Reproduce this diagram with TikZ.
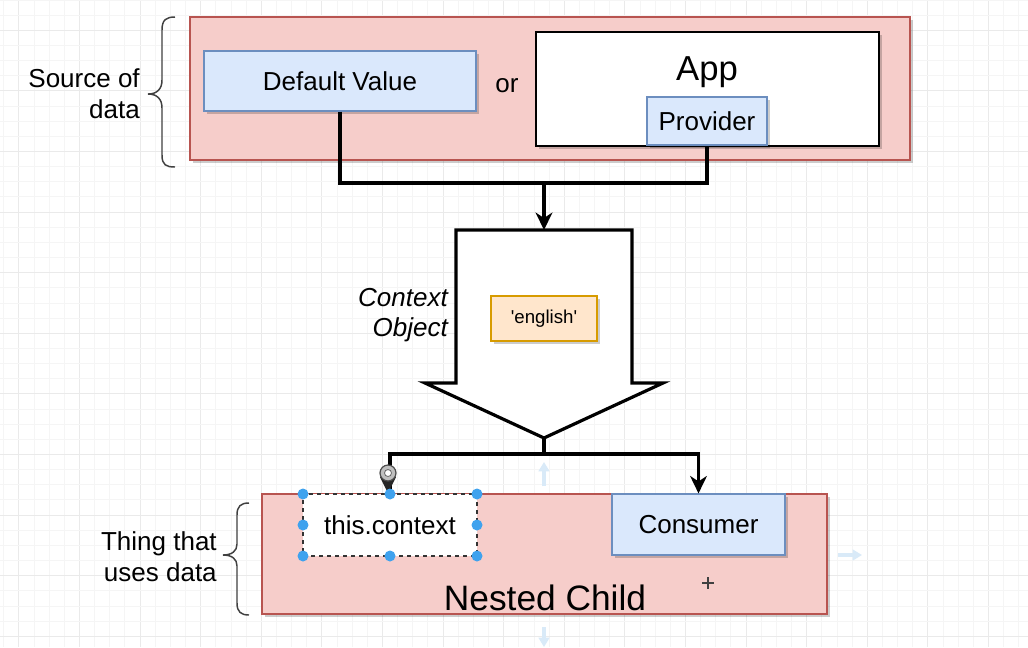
\documentclass[tikz,border=0pt]{standalone}
\usepackage{fontspec}
\setmainfont{Liberation Sans}
\usetikzlibrary{arrows.meta,calc,shadows}

\definecolor{pinkfill}{HTML}{F6CDCA}
\definecolor{pinkline}{HTML}{B85450}
\definecolor{bluefill}{HTML}{DAE8FC}
\definecolor{blueline}{HTML}{6C8EBF}
\definecolor{orangefill}{HTML}{FFE6CC}
\definecolor{orangeline}{HTML}{D79B00}
\definecolor{gridminor}{HTML}{F5F5F5}
\definecolor{gridmajor}{HTML}{EAEAEA}
\definecolor{handle}{HTML}{3FA2EE}
\definecolor{hint}{HTML}{D9EAF8}

\begin{document}
\begin{tikzpicture}[x=0.75pt,y=-0.75pt,
  box/.style 2 args={minimum width=#1*0.75pt, minimum height=#2*0.75pt, inner sep=0pt, anchor=center},
  txt/.style={font=\fontsize{19.5}{23}\selectfont, inner sep=0pt},
  shade/.style={drop shadow={shadow xshift=2.2pt, shadow yshift=-2.2pt, fill=black, opacity=0.2}},
  pinkbox/.style={draw=pinkline, fill=pinkfill, line width=0.9pt, shade},
  bluebox/.style={draw=blueline, fill=bluefill, line width=0.9pt, shade, txt},
  conn/.style={draw=black, line width=2.5pt},
  tip/.style={-{Stealth[length=13pt, width=12.5pt, inset=4pt]}},
  brace/.style={draw=black!75, line width=1.1pt},
  hnd/.style={fill=handle, draw=none},
]
\useasboundingbox (0,0) rectangle (1028,647);
\fill[white] (0,0) rectangle (1028,647);

% background grid
\foreach \k in {0,...,67}{
  \pgfmathtruncatemacro\m{mod(\k,4)}
  \pgfmathsetmacro\gx{3.75+15.15*\k}
  \ifnum\m=1 \def\gc{gridmajor}\else\def\gc{gridminor}\fi
  \draw[\gc, line width=0.75pt] (\gx,0) -- (\gx,647);
}
\foreach \k in {0,...,42}{
  \pgfmathtruncatemacro\m{mod(\k,4)}
  \pgfmathsetmacro\gy{15.15*\k}
  \ifnum\m=2 \def\gc{gridmajor}\else\def\gc{gridminor}\fi
  \draw[\gc, line width=0.75pt] (0,\gy) -- (1028,\gy);
}

% ---- source of data ----
\node[pinkbox, box={720}{143}] (src) at (550,88.5) {};
\node[bluebox, box={272}{60}] (dv) at (340,81) {Default Value};
\node[txt, anchor=base] (or) at (507,92) {or};
\node[draw=black, fill=white, line width=1.2pt, shade, box={343}{114}] (app) at (707.5,89) {};
\node[font=\fontsize{26}{30}\selectfont, inner sep=0pt, anchor=base] (applbl) at (707,80) {App};
\node[bluebox, box={120}{48}] (prov) at (707,121) {Provider};

\node[txt, align=right, anchor=east] (srclbl) at (140,93.5) {Source of\\data};
\draw[brace] (175,17) .. controls (166,17) and (162,20) .. (162,30) -- (162,80)
  .. controls (162,89) and (157,94) .. (148,94)
  .. controls (157,94) and (162,99) .. (162,108) -- (162,155)
  .. controls (162,165) and (166,167) .. (175,167);

% merge of the two sources into the context object
\coordinate (j1) at (544,183);
\draw[conn] (dv.south) |- (j1) -| (prov.south);

% ---- context object (hollow down arrow) ----
\coordinate (ctxtop) at (544,230);
\coordinate (ctxtip) at (544,438);
\draw[black, fill=white, line width=2.4pt, line join=miter]
  (456,230) -- (632,230) -- (632,383) -- (663,383) -- (ctxtip)
  -- (425,383) -- (456,383) -- cycle;
\draw[conn, tip] (j1) -- (ctxtop);
\node[draw=orangeline, fill=orangefill, line width=0.9pt, shade, box={106}{45},
      font=\fontsize{14}{16}\selectfont] (val) at (544,318.5) {\textquotesingle english\textquotesingle};
\node[txt, font=\fontsize{19.5}{23}\selectfont\itshape, align=right, anchor=east]
  (ctxlbl) at (448,315) {Context\\Object};

% ---- thing that uses data ----
\node[pinkbox, box={565}{120}] (child) at (544.5,554) {};
\node[font=\fontsize{26.5}{30}\selectfont, inner sep=0pt, anchor=base] (childlbl) at (545,610) {Nested Child};
\node[draw=black!80, dashed, fill=white, line width=1pt, box={174}{62}, txt] (tc) at (390,525) {this.context};
\node[bluebox, box={173}{61}] (cons) at (698.5,524.5) {Consumer};

\node[txt, align=right, anchor=east] (uselbl) at (217,556.5) {Thing that\\uses data};
\draw[brace] (249,503) .. controls (241,503) and (237,506) .. (237,515) -- (237,544)
  .. controls (237,551) and (232,555) .. (223,555)
  .. controls (232,555) and (237,559) .. (237,566) -- (237,603)
  .. controls (237,612) and (241,615) .. (249,615);

% split of the context object to its readers
\coordinate (j2) at (544,454);
\draw[conn] (ctxtip) -- (j2);
\draw[conn] (j2) -| (tc.north);
\draw[conn, tip] (j2) -| (cons.north);

% connection pin on this.context
\fill[black!85] (380,477) -- (396,477) -- (388,493) -- cycle;
\draw[fill=black!25, draw=black!70, line width=0.9pt] (388,473) circle (8);
\draw[fill=white, draw=black!60, line width=0.6pt] (388,473) circle (3.5);

% selection handles
\foreach \hx in {303,390,477}{
  \foreach \hy in {494,525,556}{
    \ifnum\hx=390 \ifnum\hy=525 \else \fill[hnd] (\hx,\hy) circle (5.5); \fi
    \else \fill[hnd] (\hx,\hy) circle (5.5); \fi
  }
}

% faint hover arrows
\draw[hint, line width=2.5pt, -{Triangle[length=7pt, width=8pt]}] (544,486) -- (544,462);
\draw[hint, line width=2.5pt, -{Triangle[length=7pt, width=8pt]}] (544,627) -- (544,647);
\draw[hint, line width=2.5pt, -{Triangle[length=7pt, width=8pt]}] (838,555) -- (862,555);

% move cursor
\draw[black!75, line width=1.2pt] (702,583) -- (714,583) (708,577) -- (708,589);
\end{tikzpicture}
\end{document}
